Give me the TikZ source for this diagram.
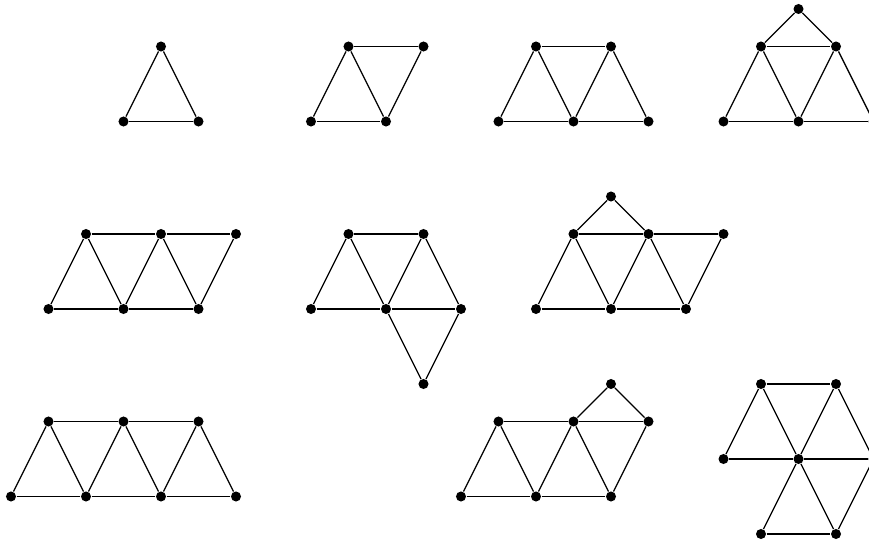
\documentclass[tikz,border=0pt]{standalone}
\usepackage{tikz}

\begin{document}
\begin{tikzpicture}[
  x=0.5cm, y=0.5cm,
  vertex/.style={circle, fill=black, draw=none, inner sep=0pt, minimum size=3.8pt},
  edge/.style={line width=0.5pt, color=black},
]
  \useasboundingbox (-0.2933,-0.2133) rectangle (22.88,14.24);

  % vertices, one list per graph
  \foreach \n/\i/\j in {a1/4/13, a2/3/11, a3/5/11,
                        b1/9/13, b2/11/13, b3/8/11, b4/10/11,
                        c1/14/13, c2/16/13, c3/13/11, c4/15/11, c5/17/11,
                        d0/21/14, d1/20/13, d2/22/13, d3/19/11, d4/21/11, d5/23/11,
                        e1/2/8, e2/4/8, e3/6/8, e4/1/6, e5/3/6, e6/5/6,
                        f1/9/8, f2/11/8, f3/8/6, f4/10/6, f5/12/6, f6/11/4,
                        g0/16/9, g1/15/8, g2/17/8, g3/19/8, g4/14/6, g5/16/6, g6/18/6,
                        h1/1/3, h2/3/3, h3/5/3, h4/0/1, h5/2/1, h6/4/1, h7/6/1,
                        k0/16/4, k1/13/3, k2/15/3, k3/17/3, k4/12/1, k5/14/1, k6/16/1,
                        m1/20/4, m2/22/4, m3/19/2, m4/21/2, m5/23/2, m6/20/0, m7/22/0}
    \node[vertex] (\n) at (\i,\j) {};

  % edges
  \foreach \u/\v in {a1/a2, a1/a3, a2/a3,
                     b1/b2, b3/b4, b3/b1, b1/b4, b4/b2,
                     c1/c2, c3/c4, c4/c5, c3/c1, c1/c4, c4/c2, c2/c5,
                     d0/d1, d0/d2, d1/d2, d3/d4, d4/d5, d3/d1, d1/d4, d4/d2, d2/d5,
                     e1/e2, e2/e3, e4/e5, e5/e6, e4/e1, e1/e5, e5/e2, e2/e6, e6/e3,
                     f1/f2, f3/f4, f4/f5, f3/f1, f1/f4, f4/f2, f2/f5, f4/f6, f5/f6,
                     g0/g1, g0/g2, g1/g2, g2/g3, g4/g5, g5/g6, g4/g1, g1/g5, g5/g2, g2/g6, g6/g3,
                     h1/h2, h2/h3, h4/h5, h5/h6, h6/h7, h4/h1, h1/h5, h5/h2, h2/h6, h6/h3, h3/h7,
                     k0/k2, k0/k3, k1/k2, k2/k3, k4/k5, k5/k6, k4/k1, k1/k5, k5/k2, k2/k6, k6/k3,
                     m1/m2, m3/m1, m1/m4, m2/m4, m2/m5, m3/m4, m4/m5, m4/m6, m4/m7, m6/m7, m7/m5}
    \draw[edge] (\u) -- (\v);
\end{tikzpicture}
\end{document}
